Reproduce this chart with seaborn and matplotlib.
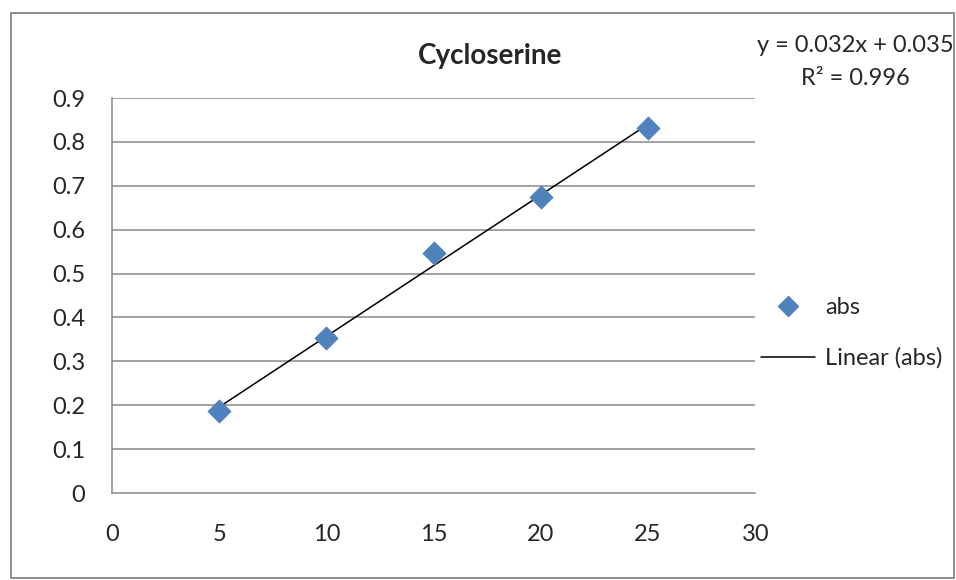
import numpy as np
import pandas as pd
import matplotlib
matplotlib.use("Agg")
import matplotlib.pyplot as plt
import seaborn as sns
from matplotlib.lines import Line2D
from matplotlib.patches import Rectangle

# concentration vs absorbance readings
conc = [5, 10, 15, 20, 25]
absorb = [0.186, 0.353, 0.546, 0.674, 0.831]
x_ticks = [0, 5, 10, 15, 20, 25, 30]
y_ticks = [0, 0.1, 0.2, 0.3, 0.4, 0.5, 0.6, 0.7, 0.8, 0.9]

df = pd.DataFrame({"conc": conc, "abs": absorb})

sns.set_style("white")
plt.rcParams['font.family'] = ['Lato', 'DejaVu Sans']

fig = plt.figure(figsize=(9.56, 5.8), dpi=100)
ax = fig.add_axes([0.117, 0.150, 0.673, 0.681])

grid_col = "#898989"
for yv in y_ticks[1:]:
    ax.axhline(yv, color=grid_col, lw=1.1, zorder=0)

# trendline (least squares fit over data range)
sns.regplot(data=df, x="conc", y="abs", ax=ax, scatter=False, ci=None,
            color="black", line_kws={"lw": 1.1, "zorder": 2})
sns.scatterplot(data=df, x="conc", y="abs", ax=ax, marker="D", s=140,
                color="#4F81BD", edgecolor="#4F81BD", linewidth=0.5, zorder=3)

ax.set_xlim(0, 30)
ax.set_ylim(0, 0.9)
ax.set_xticks(x_ticks)
ax.set_yticks(y_ticks)
ax.set_xticklabels([str(v) for v in x_ticks])
ax.set_yticklabels(["0"] + [f"{v:.1f}" for v in y_ticks[1:]])
ax.set_xlabel("")
ax.set_ylabel("")
ax.tick_params(axis="both", labelsize=17, color=grid_col, length=7,
               width=1.1, direction="out", pad=12)
ax.tick_params(axis="x", pad=15)
for side in ["top", "right"]:
    ax.spines[side].set_visible(False)
for side in ["left", "bottom"]:
    ax.spines[side].set_color(grid_col)
    ax.spines[side].set_linewidth(1.1)

fig.text(0.513, 0.903, "Cycloserine", ha="center", va="center",
         fontsize=20, fontweight="bold")

slope, intercept = np.polyfit(conc, absorb, 1)
pred = np.polyval([slope, intercept], conc)
r2 = 1 - np.sum((np.array(absorb) - pred) ** 2) / np.sum((np.array(absorb) - np.mean(absorb)) ** 2)
fig.text(0.895, 0.921, f"y = {slope:.3f}x + {intercept:.3f}", ha="center",
         va="center", fontsize=17)
fig.text(0.895, 0.864, f"R² = {r2:.3f}", ha="center", va="center", fontsize=17)

handles = [
    Line2D([], [], marker="D", color="#4F81BD", linestyle="none", markersize=10),
    Line2D([], [], color="black", lw=1.1),
]
fig.legend(handles, ["abs", "Linear (abs)"], loc="center left",
           bbox_to_anchor=(0.774, 0.426), frameon=False, fontsize=17,
           handlelength=2.3, handletextpad=0.4, labelspacing=1.25)

fig.add_artist(Rectangle((0.011, 0.003), 0.987, 0.974, transform=fig.transFigure,
                         fill=False, edgecolor="#868686", lw=1.3))

fig.savefig("out.png", dpi=100)
